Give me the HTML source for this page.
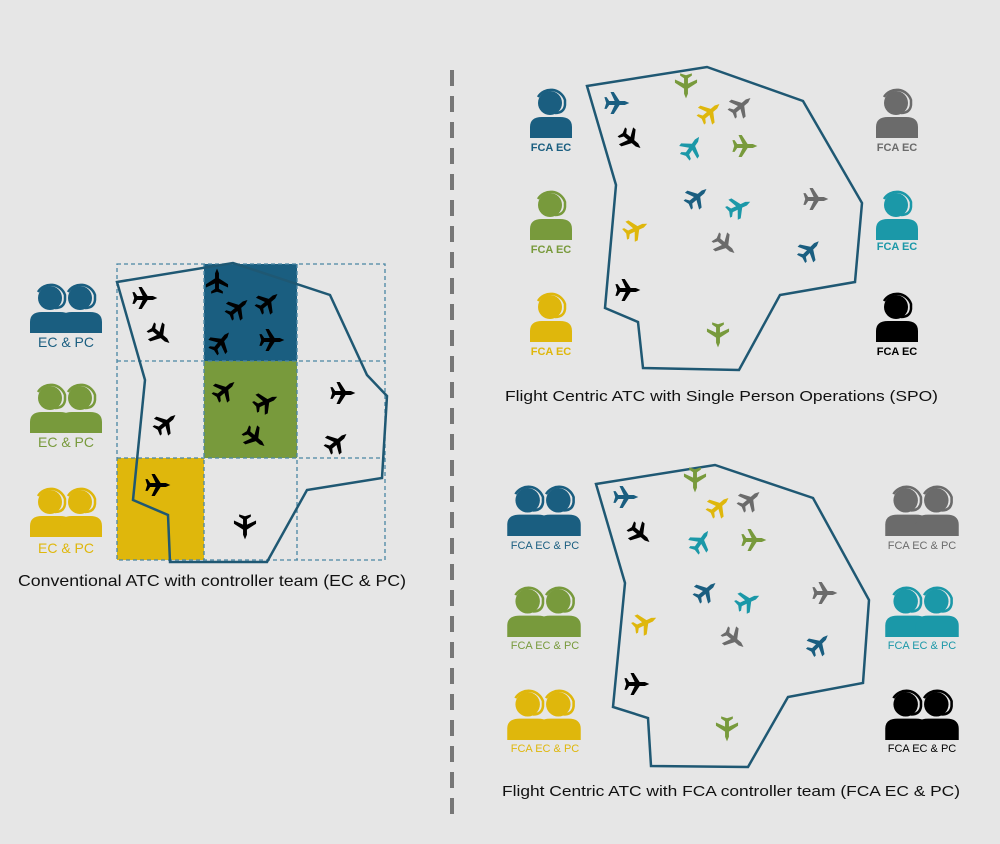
<!DOCTYPE html>
<html><head><meta charset="utf-8"><style>
html,body{margin:0;padding:0;background:#e6e6e6;}
svg{display:block;}
text{font-family:"Liberation Sans",sans-serif;}
</style></head><body>
<svg width="1000" height="844" viewBox="0 0 1000 844" xmlns="http://www.w3.org/2000/svg">
<defs>
<symbol id="pl" viewBox="-10 -10 20 20" overflow="visible">
<path d="M9.5,0 L6,-1.5 L2,-1.5 L-2.5,-8.5 L-5,-8.5 L-1.8,-1.5 L-6,-1.5 L-8,-4.5 L-9.7,-4.5 L-8.3,0 L-9.7,4.5 L-8,4.5 L-6,1.5 L-1.8,1.5 L-5,8.5 L-2.5,8.5 L2,1.5 L6,1.5 Z"/>
</symbol>
<symbol id="ps" viewBox="0 0 42 48" overflow="visible">
<circle cx="20" cy="13" r="12" stroke="none"/>
<path d="M8,7 A15,15 0 0 1 35,10 L35,15 Q34,23 25,23" fill="none" stroke-width="2.5"/>
<path d="M0,48 L0,37 Q0,27 12,27 L30,27 Q42,27 42,37 L42,48 Z" stroke="none"/>
</symbol>
<symbol id="pp" viewBox="0 0 72 48" overflow="visible">
<use href="#ps" x="0" y="0" width="42" height="48"/>
<use href="#ps" x="30" y="0" width="42" height="48"/>
</symbol>
</defs>

<line x1="452" y1="70" x2="452" y2="815" stroke="#777" stroke-width="4" stroke-dasharray="16,10"/>

<!-- LEFT -->
<rect x="204" y="264" width="93" height="97" fill="#1a5e80"/>
<rect x="204" y="361" width="93" height="97" fill="#789a3c"/>
<rect x="117" y="458" width="87" height="102" fill="#dfb70c"/>
<g stroke="#4a86a4" stroke-width="1.3" stroke-dasharray="4,3" fill="none">
<rect x="117" y="264" width="268" height="296"/>
<line x1="204" y1="264" x2="204" y2="560"/>
<line x1="297" y1="264" x2="297" y2="560"/>
<line x1="117" y1="361" x2="385" y2="361"/>
<line x1="117" y1="458" x2="385" y2="458"/>
</g>
<polygon points="117,282 233,263 330,295 367,375 387,396 382,478 307,490 267,562 170,562 168,515 133,500 145,380" fill="none" stroke="#1f5873" stroke-width="2.5"/>
<g fill="#000">
<use href="#pl" x="132" y="285" width="26" height="26"/>
<use href="#pl" x="147" y="322" width="26" height="26" transform="rotate(40 160 335)"/>
<use href="#pl" x="204" y="268" width="26" height="26" transform="rotate(-90 217 281)"/>
<use href="#pl" x="225" y="295" width="26" height="26" transform="rotate(-40 238 308)"/>
<use href="#pl" x="255" y="289" width="26" height="26" transform="rotate(-40 268 302)"/>
<use href="#pl" x="208" y="329" width="26" height="26" transform="rotate(-50 221 342)"/>
<use href="#pl" x="259" y="327" width="26" height="26"/>
<use href="#pl" x="212" y="377" width="26" height="26" transform="rotate(-40 225 390)"/>
<use href="#pl" x="253" y="389" width="26" height="26" transform="rotate(-25 266 402)"/>
<use href="#pl" x="242" y="425" width="26" height="26" transform="rotate(40 255 438)"/>
<use href="#pl" x="330" y="380" width="26" height="26"/>
<use href="#pl" x="324" y="429" width="26" height="26" transform="rotate(-40 337 442)"/>
<use href="#pl" x="153" y="410" width="26" height="26" transform="rotate(-40 166 423)"/>
<use href="#pl" x="145" y="472" width="26" height="26"/>
<use href="#pl" x="232" y="514" width="26" height="26" transform="rotate(90 245 527)"/>
</g>
<use href="#pp" x="30" y="285" width="72" height="48" fill="#1a5e80" stroke="#1a5e80"/>
<use href="#pp" x="30" y="385" width="72" height="48" fill="#789a3c" stroke="#789a3c"/>
<use href="#pp" x="30" y="489" width="72" height="48" fill="#dfb70c" stroke="#dfb70c"/>
<g font-size="14" text-anchor="middle">
<text x="66" y="347" fill="#1a5e80">EC &amp; PC</text>
<text x="66" y="447" fill="#789a3c">EC &amp; PC</text>
<text x="66" y="553" fill="#dfb70c">EC &amp; PC</text>
</g>
<text x="18" y="586" font-size="16" textLength="388" lengthAdjust="spacingAndGlyphs" fill="#111">Conventional ATC with controller team (EC &amp; PC)</text>

<!-- SPO -->
<polygon points="587,86 707,67 803,101 862,203 855,282 780,295 739,370 643,368 638,322 605,308 616,185" fill="none" stroke="#1f5873" stroke-width="2.5"/>
<g id="planesA">
<use href="#pl" x="604" y="90" width="26" height="26" fill="#1a5e80"/>
<use href="#pl" x="673" y="73" width="26" height="26" fill="#789a3c" transform="rotate(90 686 86)"/>
<use href="#pl" x="697" y="99" width="26" height="26" fill="#dfb70c" transform="rotate(-40 710 112)"/>
<use href="#pl" x="728" y="93" width="26" height="26" fill="#6b6b6b" transform="rotate(-40 741 106)"/>
<use href="#pl" x="618" y="127" width="26" height="26" fill="#000" transform="rotate(40 631 140)"/>
<use href="#pl" x="679" y="134" width="26" height="26" fill="#1b98a8" transform="rotate(-55 692 147)"/>
<use href="#pl" x="732" y="133" width="26" height="26" fill="#789a3c"/>
<use href="#pl" x="684" y="184" width="26" height="26" fill="#1a5e80" transform="rotate(-40 697 197)"/>
<use href="#pl" x="726" y="194" width="26" height="26" fill="#1b98a8" transform="rotate(-25 739 207)"/>
<use href="#pl" x="803" y="186" width="26" height="26" fill="#6b6b6b"/>
<use href="#pl" x="623" y="216" width="26" height="26" fill="#dfb70c" transform="rotate(-25 636 229)"/>
<use href="#pl" x="712" y="232" width="26" height="26" fill="#6b6b6b" transform="rotate(40 725 245)"/>
<use href="#pl" x="797" y="237" width="26" height="26" fill="#1a5e80" transform="rotate(-45 810 250)"/>
<use href="#pl" x="615" y="277" width="26" height="26" fill="#000"/>
<use href="#pl" x="705" y="322" width="26" height="26" fill="#789a3c" transform="rotate(90 718 335)"/>
</g>
<use href="#ps" x="530" y="90" width="42" height="48" fill="#1a5e80" stroke="#1a5e80"/>
<use href="#ps" x="530" y="192" width="42" height="48" fill="#789a3c" stroke="#789a3c"/>
<use href="#ps" x="530" y="294" width="42" height="48" fill="#dfb70c" stroke="#dfb70c"/>
<use href="#ps" x="876" y="90" width="42" height="48" fill="#6b6b6b" stroke="#6b6b6b"/>
<use href="#ps" x="876" y="192" width="42" height="48" fill="#1b98a8" stroke="#1b98a8"/>
<use href="#ps" x="876" y="294" width="42" height="48" fill="#000" stroke="#000"/>
<g font-size="11" text-anchor="middle" font-weight="bold">
<text x="551" y="151" fill="#1a5e80">FCA EC</text>
<text x="551" y="253" fill="#789a3c">FCA EC</text>
<text x="551" y="355" fill="#dfb70c">FCA EC</text>
<text x="897" y="151" fill="#6b6b6b">FCA EC</text>
<text x="897" y="250" fill="#1b98a8">FCA EC</text>
<text x="897" y="355" fill="#000">FCA EC</text>
</g>
<text x="505" y="401" font-size="15" textLength="433" lengthAdjust="spacingAndGlyphs" fill="#111">Flight Centric ATC with Single Person Operations (SPO)</text>

<!-- FCA team -->
<polygon points="596,484 715,465 813,498 869,600 863,683 788,697 748,767 651,766 648,718 613,707 625,583" fill="none" stroke="#1f5873" stroke-width="2.5"/>
<use href="#planesA" transform="translate(9,394)"/>
<use href="#pp" x="507" y="487" width="74" height="49" fill="#1a5e80" stroke="#1a5e80"/>
<use href="#pp" x="507" y="588" width="74" height="49" fill="#789a3c" stroke="#789a3c"/>
<use href="#pp" x="507" y="691" width="74" height="49" fill="#dfb70c" stroke="#dfb70c"/>
<use href="#pp" x="885" y="487" width="74" height="49" fill="#6b6b6b" stroke="#6b6b6b"/>
<use href="#pp" x="885" y="588" width="74" height="49" fill="#1b98a8" stroke="#1b98a8"/>
<use href="#pp" x="885" y="691" width="74" height="49" fill="#000" stroke="#000"/>
<g font-size="11" text-anchor="middle">
<text x="545" y="549" fill="#1a5e80">FCA EC &amp; PC</text>
<text x="545" y="649" fill="#789a3c">FCA EC &amp; PC</text>
<text x="545" y="752" fill="#dfb70c">FCA EC &amp; PC</text>
<text x="922" y="549" fill="#6b6b6b">FCA EC &amp; PC</text>
<text x="922" y="649" fill="#1b98a8">FCA EC &amp; PC</text>
<text x="922" y="752" fill="#000">FCA EC &amp; PC</text>
</g>
<text x="502" y="796" font-size="15" textLength="458" lengthAdjust="spacingAndGlyphs" fill="#111">Flight Centric ATC with FCA controller team (FCA EC &amp; PC)</text>
</svg>
</body></html>
